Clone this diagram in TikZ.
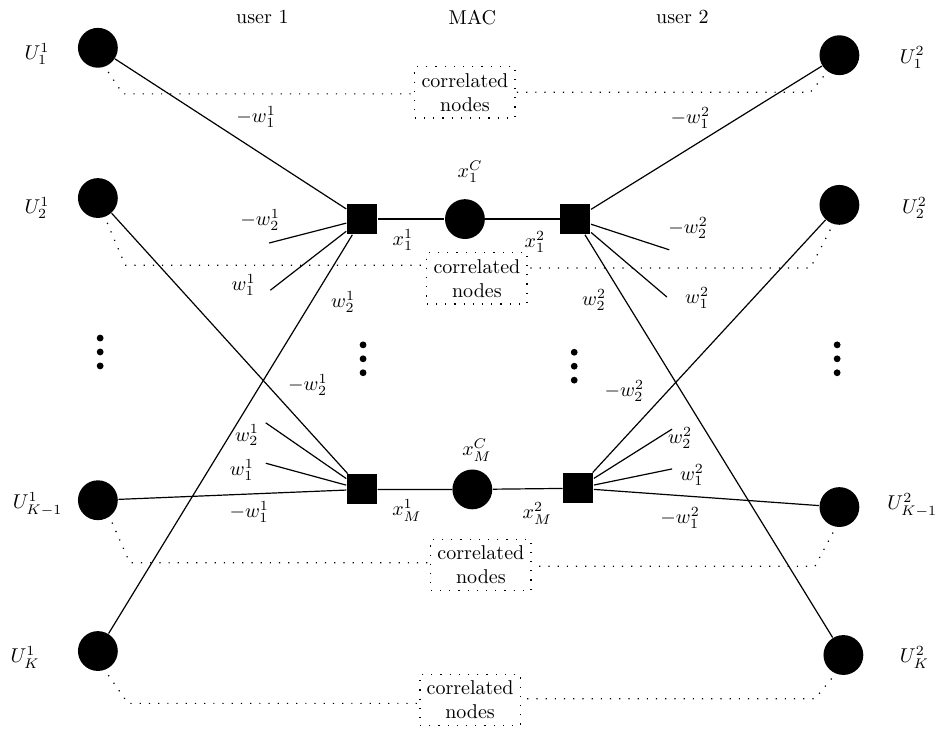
\documentclass[tikz,border=0pt]{standalone}
\usetikzlibrary{positioning}

\begin{document}
\begin{tikzpicture}[semithick]
			\tikzset{>=latex}
			\tikzset{user/.style={circle,fill=black,inner sep=0pt,minimum size=0.7cm},
				mac/.style={rectangle,fill=black,inner sep=0pt,minimum size=0.53cm},
				corr/.style={draw,loosely dotted,align=center},
				wlab/.style={inner sep=1pt},
				link/.style={loosely dotted,shorten <=3pt}}
			\useasboundingbox (0,0) rectangle (16.5,-12.85);

			\node (t1) at (4.61,-0.30) {user 1};
			\node (tm) at (8.30,-0.30) {MAC};
			\node (t2) at (11.99,-0.30) {user 2};

			% user 1 nodes
			\node[user] (a1) at (1.72,-0.84) {};
			\node[user] (a2) at (1.72,-3.48) {};
			\node[user] (a3) at (1.72,-8.79) {};
			\node[user] (a4) at (1.72,-11.44) {};
			\node (la1) at (0.65,-0.95) {$U^1_1$};
			\node (la2) at (0.65,-3.66) {$U^1_2$};
			\node (la3) at (0.66,-8.86) {$U^1_{K-1}$};
			\node (la4) at (0.44,-11.55) {$U^1_K$};

			% user 2 nodes
			\node[user] (b1) at (14.75,-0.97) {};
			\node[user] (b2) at (14.75,-3.60) {};
			\node[user] (b3) at (14.75,-8.91) {};
			\node[user] (b4) at (14.82,-11.51) {};
			\node (lb1) at (16.03,-1.01) {$U^2_1$};
			\node (lb2) at (16.07,-3.66) {$U^2_2$};
			\node (lb3) at (16.03,-8.88) {$U^2_{K-1}$};
			\node (lb4) at (16.07,-11.55) {$U^2_K$};

			% MAC: two rows
			\node[mac] (l1) at (6.36,-3.85) {};
			\node[user] (c1) at (8.17,-3.85) {};
			\node[mac] (r1) at (10.11,-3.85) {};
			\node[mac] (lM) at (6.36,-8.60) {};
			\node[user] (cM) at (8.30,-8.60) {};
			\node[mac] (rM) at (10.16,-8.58) {};
			\draw (l1) -- (c1) -- (r1);
			\draw (lM) -- (cM) -- (rM);
			\node (xc1) at (8.26,-3.02) {$x^C_1$};
			\node (xcM) at (8.38,-7.91) {$x^C_M$};
			\node (x11) at (7.08,-4.22) {$x^1_1$};
			\node (x21) at (9.40,-4.25) {$x^2_1$};
			\node (x1M) at (7.15,-8.97) {$x^1_M$};
			\node (x2M) at (9.44,-9.02) {$x^2_M$};

			% free ends of the short edges
			\coordinate (s1) at (4.73,-4.27);
			\coordinate (s2) at (4.75,-5.10);
			\coordinate (s3) at (4.67,-7.43);
			\coordinate (s4) at (4.67,-8.14);
			\coordinate (s5) at (11.76,-4.39);
			\coordinate (s6) at (11.72,-5.22);
			\coordinate (s7) at (11.81,-7.54);
			\coordinate (s8) at (11.81,-8.24);

			% user 1 edges
			\draw (a1) -- (l1);
			\draw (a2) -- (lM);
			\draw (a3) -- (lM);
			\draw (a4) -- (l1);
			\draw (s1) -- (l1);
			\draw (s2) -- (l1);
			\draw (s3) -- (lM);
			\draw (s4) -- (lM);
			\node[wlab] (wa1) at (4.50,-2.06) {$-w^1_1$};
			\node[wlab] (wa2) at (4.57,-3.87) {$-w^1_2$};
			\node[wlab] (wa3) at (4.28,-5.01) {$w^1_1$};
			\node[wlab] (wa4) at (6.03,-5.31) {$w^1_2$};
			\node[wlab] (wa5) at (5.41,-6.77) {$-w^1_2$};
			\node[wlab] (wa6) at (4.34,-7.65) {$w^1_2$};
			\node[wlab] (wa7) at (4.25,-8.26) {$w^1_1$};
			\node[wlab] (wa8) at (4.38,-9.00) {$-w^1_1$};

			% user 2 edges
			\draw (b1) -- (r1);
			\draw (b2) -- (rM);
			\draw (b3) -- (rM);
			\draw (b4) -- (r1);
			\draw (s5) -- (r1);
			\draw (s6) -- (r1);
			\draw (s7) -- (rM);
			\draw (s8) -- (rM);
			\node[wlab] (wb1) at (12.13,-2.07) {$-w^2_1$};
			\node[wlab] (wb2) at (12.09,-4.01) {$-w^2_2$};
			\node[wlab] (wb3) at (12.25,-5.24) {$w^2_1$};
			\node[wlab] (wb4) at (10.44,-5.27) {$w^2_2$};
			\node[wlab] (wb5) at (10.97,-6.87) {$-w^2_2$};
			\node[wlab] (wb6) at (11.95,-7.70) {$w^2_2$};
			\node[wlab] (wb7) at (12.16,-8.35) {$w^2_1$};
			\node[wlab] (wb8) at (11.95,-9.10) {$-w^2_1$};

			% vertical dots
			\foreach \x/\y in {1.76/-5.94, 6.38/-6.06, 10.09/-6.19, 14.71/-6.06}
				\foreach \k in {0,1,2}
					\fill (\x,\y-0.245*\k) circle (0.06);

			% correlated nodes
			\node[corr] (k1) at (8.17,-1.62) {correlated\\nodes};
			\node[corr] (k2) at (8.38,-4.89) {correlated\\nodes};
			\node[corr] (k3) at (8.45,-9.93) {correlated\\nodes};
			\node[corr] (k4) at (8.26,-12.30) {correlated\\nodes};
			\coordinate (pa1) at (2.16,-1.65);
			\coordinate (pa2) at (2.20,-4.66);
			\coordinate (pa3) at (2.28,-9.89);
			\coordinate (pa4) at (2.25,-12.36);
			\coordinate (pb1) at (14.24,-1.62);
			\coordinate (pb2) at (14.24,-4.71);
			\coordinate (pb3) at (14.32,-9.95);
			\coordinate (pb4) at (14.32,-12.28);
			\draw[link] (a1.-70) -- (pa1) -- (pa1 -| k1.west);
			\draw[link] (a2.-70) -- (pa2) -- (pa2 -| k2.west);
			\draw[link] (a3.-55) -- (pa3) -- (pa3 -| k3.west);
			\draw[link] (a4.-70) -- (pa4) -- (pa4 -| k4.west);
			\draw[link] (b1.-126) -- (pb1) -- (pb1 -| k1.east);
			\draw[link] (b2.-108) -- (pb2) -- (pb2 -| k2.east);
			\draw[link] (b3.-100) -- (pb3) -- (pb3 -| k3.east);
			\draw[link] (b4.-113) -- (pb4) -- (pb4 -| k4.east);
\end{tikzpicture}
\end{document}
